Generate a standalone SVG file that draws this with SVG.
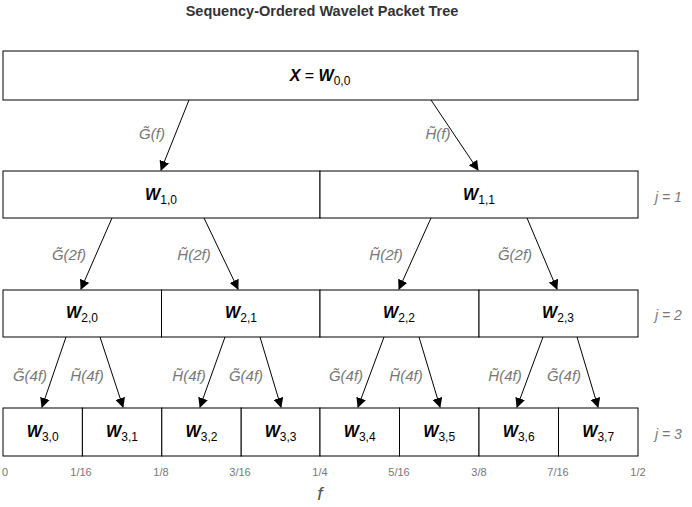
<svg xmlns="http://www.w3.org/2000/svg" width="692" height="507" viewBox="0 0 692 507">
<style>
  .box{fill:#fff;stroke:#000;stroke-width:1}
  .nl{font-family:"Liberation Sans",Arial,sans-serif;font-size:16px;fill:#000;text-anchor:middle}
  .w{font-weight:bold;font-style:italic}
  .sub{font-size:12px;font-weight:normal;font-style:normal}
  .el{font-family:"Liberation Sans",Arial,sans-serif;font-size:15px;font-style:italic;fill:#777;text-anchor:middle}
  .jl{font-family:"Liberation Sans",Arial,sans-serif;font-size:14px;font-style:italic;fill:#777}
  .fx{font-family:"Liberation Sans",Arial,sans-serif;font-size:19px;font-style:italic;fill:#555;text-anchor:middle}
  .tk{font-family:"Liberation Sans",Arial,sans-serif;font-size:11px;fill:#777;text-anchor:middle}
  .title{font-family:"Liberation Sans",Arial,sans-serif;font-size:14.5px;font-weight:bold;fill:#333;text-anchor:middle}
  .ed{stroke:#000;stroke-width:1;fill:none;marker-end:url(#arr)}
</style>
<defs>
  <marker id="arr" viewBox="0 0 10 10" refX="9" refY="5" markerWidth="10" markerHeight="10" markerUnits="userSpaceOnUse" orient="auto">
    <path d="M0,0 L10,5 L0,10 Z" fill="#000"/>
  </marker>
</defs>
<rect width="692" height="507" fill="#fff"/>
<text class="title" x="322" y="16">Sequency-Ordered Wavelet Packet Tree</text>

<g id="W00">
  <rect class="box" x="3" y="51" width="635" height="49"/>
  <text class="nl" x="320" y="81"><tspan class="w">X</tspan> = <tspan class="w">W</tspan><tspan class="sub" dy="4">0,0</tspan></text>
</g>

<g id="W10"><rect class="box" x="3" y="171" width="317" height="47"/><text class="nl" x="161" y="200"><tspan class="w">W</tspan><tspan class="sub" dy="4">1,0</tspan></text></g>
<g id="W11"><rect class="box" x="320" y="171" width="318" height="47"/><text class="nl" x="479" y="200"><tspan class="w">W</tspan><tspan class="sub" dy="4">1,1</tspan></text></g>

<g id="W20"><rect class="box" x="3" y="290" width="158.5" height="47"/><text class="nl" x="82" y="318"><tspan class="w">W</tspan><tspan class="sub" dy="4">2,0</tspan></text></g>
<g id="W21"><rect class="box" x="161.5" y="290" width="158.5" height="47"/><text class="nl" x="241" y="318"><tspan class="w">W</tspan><tspan class="sub" dy="4">2,1</tspan></text></g>
<g id="W22"><rect class="box" x="320" y="290" width="159" height="47"/><text class="nl" x="399" y="318"><tspan class="w">W</tspan><tspan class="sub" dy="4">2,2</tspan></text></g>
<g id="W23"><rect class="box" x="479" y="290" width="159" height="47"/><text class="nl" x="558" y="318"><tspan class="w">W</tspan><tspan class="sub" dy="4">2,3</tspan></text></g>

<g id="W30"><rect class="box" x="3" y="408" width="79.4" height="48"/><text class="nl" x="42.7" y="437"><tspan class="w">W</tspan><tspan class="sub" dy="4">3,0</tspan></text></g>
<g id="W31"><rect class="box" x="82.4" y="408" width="79.4" height="48"/><text class="nl" x="122" y="437"><tspan class="w">W</tspan><tspan class="sub" dy="4">3,1</tspan></text></g>
<g id="W32"><rect class="box" x="161.8" y="408" width="79.4" height="48"/><text class="nl" x="201.5" y="437"><tspan class="w">W</tspan><tspan class="sub" dy="4">3,2</tspan></text></g>
<g id="W33"><rect class="box" x="241.2" y="408" width="78.8" height="48"/><text class="nl" x="280.6" y="437"><tspan class="w">W</tspan><tspan class="sub" dy="4">3,3</tspan></text></g>
<g id="W34"><rect class="box" x="320" y="408" width="79.5" height="48"/><text class="nl" x="359.7" y="437"><tspan class="w">W</tspan><tspan class="sub" dy="4">3,4</tspan></text></g>
<g id="W35"><rect class="box" x="399.5" y="408" width="79.5" height="48"/><text class="nl" x="439.2" y="437"><tspan class="w">W</tspan><tspan class="sub" dy="4">3,5</tspan></text></g>
<g id="W36"><rect class="box" x="479" y="408" width="79.5" height="48"/><text class="nl" x="518.7" y="437"><tspan class="w">W</tspan><tspan class="sub" dy="4">3,6</tspan></text></g>
<g id="W37"><rect class="box" x="558.5" y="408" width="79.5" height="48"/><text class="nl" x="598.2" y="437"><tspan class="w">W</tspan><tspan class="sub" dy="4">3,7</tspan></text></g>

<g id="connectors">
  <line class="ed" x1="189" y1="100" x2="161" y2="170"/>
  <line class="ed" x1="431" y1="100" x2="478" y2="170"/>
  <line class="ed" x1="112" y1="218" x2="81" y2="289"/>
  <line class="ed" x1="204" y1="218" x2="238" y2="289"/>
  <line class="ed" x1="431" y1="218" x2="399" y2="289"/>
  <line class="ed" x1="527" y1="218" x2="557" y2="289"/>
  <line class="ed" x1="66" y1="337" x2="42" y2="407"/>
  <line class="ed" x1="100" y1="337" x2="123" y2="407"/>
  <line class="ed" x1="225" y1="337" x2="200" y2="407"/>
  <line class="ed" x1="260" y1="337" x2="281" y2="407"/>
  <line class="ed" x1="384" y1="337" x2="358" y2="407"/>
  <line class="ed" x1="419" y1="337" x2="440" y2="407"/>
  <line class="ed" x1="543" y1="337" x2="517" y2="407"/>
  <line class="ed" x1="577" y1="337" x2="598" y2="407"/>
  <text class="el" x="152" y="139">G̃(f)</text>
  <text class="el" x="438" y="139">H̃(f)</text>
  <text class="el" x="69" y="260">G̃(2f)</text>
  <text class="el" x="194" y="260">H̃(2f)</text>
  <text class="el" x="386" y="260">H̃(2f)</text>
  <text class="el" x="515" y="260">G̃(2f)</text>
  <text class="el" x="30" y="381">G̃(4f)</text>
  <text class="el" x="87" y="381">H̃(4f)</text>
  <text class="el" x="189" y="381">H̃(4f)</text>
  <text class="el" x="246" y="381">G̃(4f)</text>
  <text class="el" x="346" y="381">G̃(4f)</text>
  <text class="el" x="406" y="381">H̃(4f)</text>
  <text class="el" x="505" y="381">H̃(4f)</text>
  <text class="el" x="564" y="381">G̃(4f)</text>
</g>

<text class="jl" x="655" y="202">j = 1</text>
<text class="jl" x="655" y="320">j = 2</text>
<text class="jl" x="655" y="439">j = 3</text>

<text class="tk" x="5" y="476">0</text>
<text class="tk" x="81" y="476">1/16</text>
<text class="tk" x="161" y="476">1/8</text>
<text class="tk" x="240" y="476">3/16</text>
<text class="tk" x="320" y="476">1/4</text>
<text class="tk" x="399" y="476">5/16</text>
<text class="tk" x="479" y="476">3/8</text>
<text class="tk" x="558" y="476">7/16</text>
<text class="tk" x="638" y="476">1/2</text>
<text class="fx" x="320" y="500">f</text>
</svg>
